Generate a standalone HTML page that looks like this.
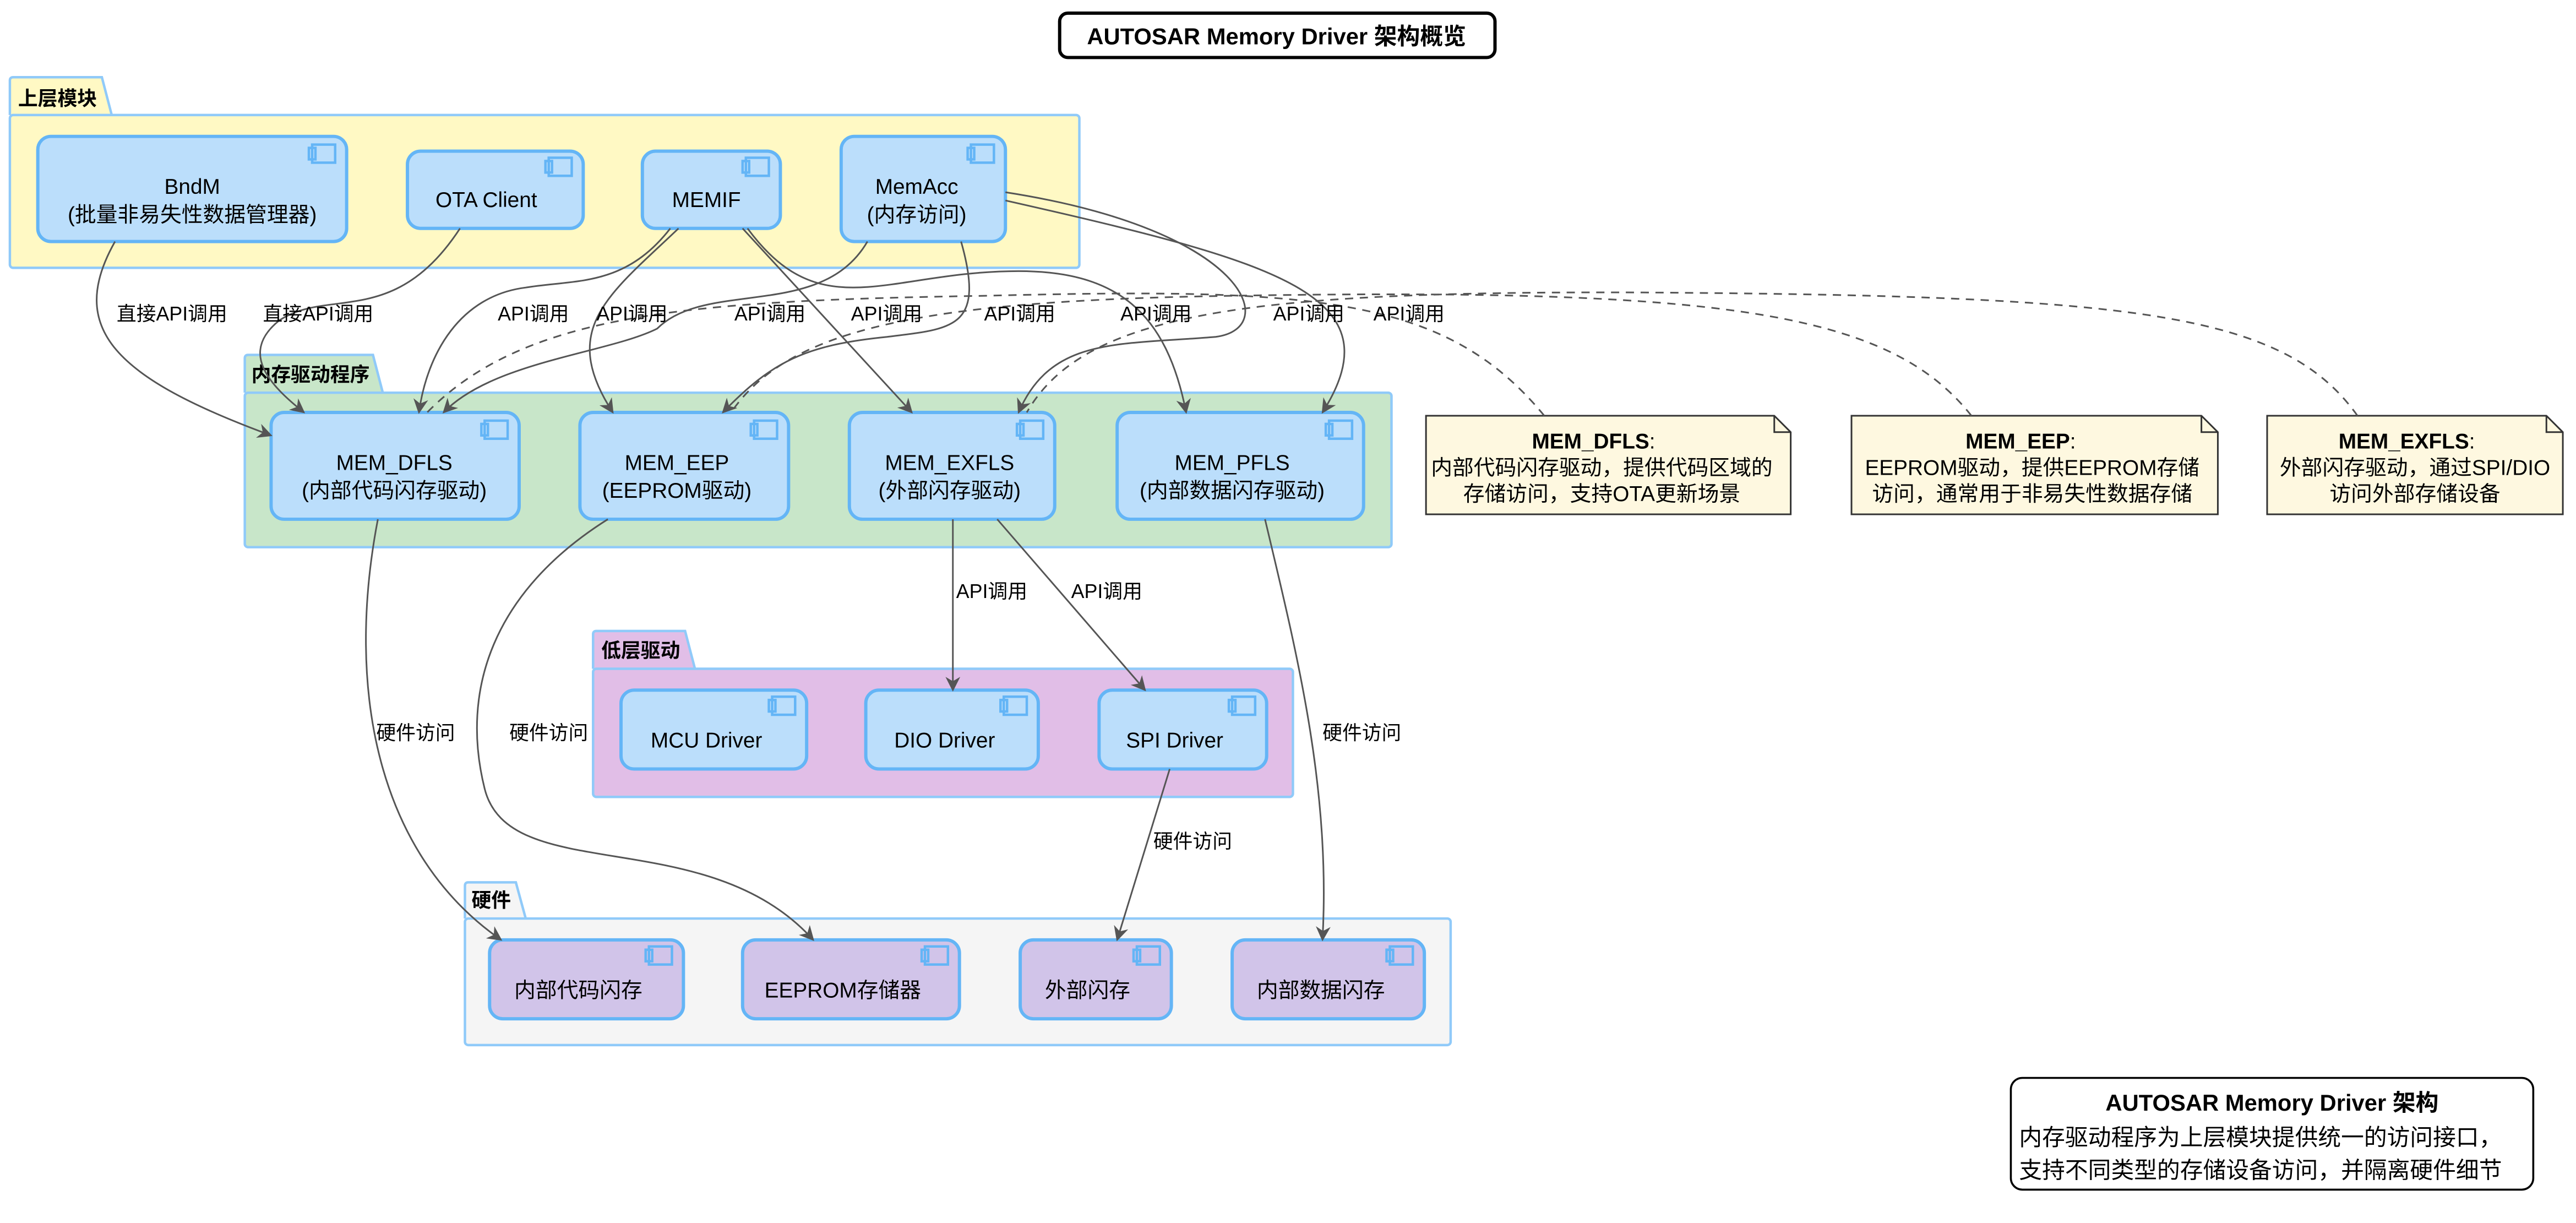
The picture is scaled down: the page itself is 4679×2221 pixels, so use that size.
<!DOCTYPE html>
<html><head><meta charset="utf-8"><style>
html,body{margin:0;padding:0;background:#fff;}
svg{display:block;}
text{font-family:"Liberation Sans","Noto Sans CJK SC",sans-serif;fill:#000;}
.c{fill:#bbdefb;stroke:#64b5f6;stroke-width:2;}
.h{fill:#d1c4e9;stroke:#64b5f6;stroke-width:2;}
.ic{fill:none;stroke:#64b5f6;stroke-width:1.5;}
.e{fill:none;stroke:#555;stroke-width:1;}
.d{fill:none;stroke:#555;stroke-width:1;stroke-dasharray:5,4;}
.l{font-size:12px;}
.t{font-size:13px;text-anchor:middle;}
.pk{font-size:12px;font-weight:bold;}
.n{fill:#fef8e0;stroke:#333;stroke-width:1;}
</style></head><body>
<svg width="4679" height="2221" viewBox="0 0 1568 744.3" xmlns="http://www.w3.org/2000/svg">
<defs><marker id="a" viewBox="0 0 10 10" refX="9" refY="5" markerWidth="9" markerHeight="9" orient="auto"><path d="M0,0 L10,5 L0,10 L3,5 z" fill="#555"/></marker></defs>
<rect width="1568" height="744.3" fill="#fff"/>
<!-- title -->
<rect x="645" y="8" width="265" height="27" rx="5" fill="#fff" stroke="#000" stroke-width="2"/>
<text x="777" y="27" font-size="14" font-weight="bold" text-anchor="middle">AUTOSAR Memory Driver 架构概览</text>

<!-- packages -->
<path d="M6,70 L6,49 Q6,47 8,47 L62,47 L68,70" fill="#fff9c4" stroke="#90caf9" stroke-width="1.5"/>
<rect x="6" y="70" width="651" height="93" rx="2" fill="#fff9c4" stroke="#90caf9" stroke-width="1.5"/>
<text x="11" y="64" class="pk">上层模块</text>

<path d="M149,239 L149,218 Q149,216 151,216 L227,216 L233,239" fill="#c8e6c9" stroke="#90caf9" stroke-width="1.5"/>
<rect x="149" y="239" width="698" height="94" rx="2" fill="#c8e6c9" stroke="#90caf9" stroke-width="1.5"/>
<text x="153" y="232" class="pk">内存驱动程序</text>

<path d="M361,407 L361,386 Q361,384 363,384 L417,384 L423,407" fill="#e1bee7" stroke="#90caf9" stroke-width="1.5"/>
<rect x="361" y="407" width="426" height="78" rx="2" fill="#e1bee7" stroke="#90caf9" stroke-width="1.5"/>
<text x="366" y="400" class="pk">低层驱动</text>

<path d="M283,559 L283,539 Q283,537 285,537 L314,537 L320,559" fill="#f5f5f5" stroke="#90caf9" stroke-width="1.5"/>
<rect x="283" y="559" width="600" height="77" rx="2" fill="#f5f5f5" stroke="#90caf9" stroke-width="1.5"/>
<text x="287" y="552" class="pk">硬件</text>

<!-- upper components -->
<rect class="c" x="23" y="83" width="188" height="64" rx="8"/><rect class="ic" x="190" y="88" width="14" height="11"/><rect class="ic" x="188" y="90" width="4" height="7"/>
<text class="t" x="117" y="118">BndM</text><text class="t" x="117" y="135">(批量非易失性数据管理器)</text>
<rect class="c" x="248" y="92" width="107" height="47" rx="8"/><rect class="ic" x="334" y="96" width="14" height="11"/><rect class="ic" x="332" y="98" width="4" height="7"/>
<text class="t" x="296" y="126">OTA Client</text>
<rect class="c" x="391" y="92" width="84" height="47" rx="8"/><rect class="ic" x="454" y="96" width="14" height="11"/><rect class="ic" x="452" y="98" width="4" height="7"/>
<text class="t" x="430" y="126">MEMIF</text>
<rect class="c" x="512" y="83" width="100" height="64" rx="8"/><rect class="ic" x="591" y="88" width="14" height="11"/><rect class="ic" x="589" y="90" width="4" height="7"/>
<text class="t" x="558" y="118">MemAcc</text><text class="t" x="558" y="135">(内存访问)</text>

<!-- mem components -->
<rect class="c" x="165" y="251" width="151" height="65" rx="8"/><rect class="ic" x="295" y="256" width="14" height="11"/><rect class="ic" x="293" y="258" width="4" height="7"/>
<text class="t" x="240" y="286">MEM_DFLS</text><text class="t" x="240" y="303">(内部代码闪存驱动)</text>
<rect class="c" x="353" y="251" width="127" height="65" rx="8"/><rect class="ic" x="459" y="256" width="14" height="11"/><rect class="ic" x="457" y="258" width="4" height="7"/>
<text class="t" x="412" y="286">MEM_EEP</text><text class="t" x="412" y="303">(EEPROM驱动)</text>
<rect class="c" x="517" y="251" width="125" height="65" rx="8"/><rect class="ic" x="621" y="256" width="14" height="11"/><rect class="ic" x="619" y="258" width="4" height="7"/>
<text class="t" x="578" y="286">MEM_EXFLS</text><text class="t" x="578" y="303">(外部闪存驱动)</text>
<rect class="c" x="680" y="251" width="150" height="65" rx="8"/><rect class="ic" x="809" y="256" width="14" height="11"/><rect class="ic" x="807" y="258" width="4" height="7"/>
<text class="t" x="750" y="286">MEM_PFLS</text><text class="t" x="750" y="303">(内部数据闪存驱动)</text>

<!-- low drivers -->
<rect class="c" x="378" y="420" width="113" height="48" rx="8"/><rect class="ic" x="470" y="424" width="14" height="11"/><rect class="ic" x="468" y="426" width="4" height="7"/>
<text class="t" x="430" y="455">MCU Driver</text>
<rect class="c" x="527" y="420" width="105" height="48" rx="8"/><rect class="ic" x="611" y="424" width="14" height="11"/><rect class="ic" x="609" y="426" width="4" height="7"/>
<text class="t" x="575" y="455">DIO Driver</text>
<rect class="c" x="669" y="420" width="102" height="48" rx="8"/><rect class="ic" x="750" y="424" width="14" height="11"/><rect class="ic" x="748" y="426" width="4" height="7"/>
<text class="t" x="715" y="455">SPI Driver</text>

<!-- hardware -->
<rect class="h" x="298" y="572" width="118" height="48" rx="8"/><rect class="ic" x="395" y="576" width="14" height="11"/><rect class="ic" x="393" y="578" width="4" height="7"/>
<text class="t" x="352" y="607">内部代码闪存</text>
<rect class="h" x="452" y="572" width="132" height="48" rx="8"/><rect class="ic" x="563" y="576" width="14" height="11"/><rect class="ic" x="561" y="578" width="4" height="7"/>
<text class="t" x="513" y="607">EEPROM存储器</text>
<rect class="h" x="621" y="572" width="92" height="48" rx="8"/><rect class="ic" x="692" y="576" width="14" height="11"/><rect class="ic" x="690" y="578" width="4" height="7"/>
<text class="t" x="662" y="607">外部闪存</text>
<rect class="h" x="750" y="572" width="117" height="48" rx="8"/><rect class="ic" x="846" y="576" width="14" height="11"/><rect class="ic" x="844" y="578" width="4" height="7"/>
<text class="t" x="804" y="607">内部数据闪存</text>

<!-- notes -->
<path class="n" d="M868,253 L1080,253 L1090,263 L1090,313 L868,313 Z"/><path d="M1080,253 L1080,263 L1090,263" fill="none" stroke="#333"/>
<text class="t" x="970" y="273" font-weight="bold">MEM_DFLS<tspan font-weight="normal">:</tspan></text>
<text class="t" x="975" y="289">内部代码闪存驱动，提供代码区域的</text><text class="t" x="975" y="305">存储访问，支持OTA更新场景</text>
<path class="n" d="M1127,253 L1340,253 L1350,263 L1350,313 L1127,313 Z"/><path d="M1340,253 L1340,263 L1350,263" fill="none" stroke="#333"/>
<text class="t" x="1230" y="273" font-weight="bold">MEM_EEP<tspan font-weight="normal">:</tspan></text>
<text class="t" x="1237" y="289">EEPROM驱动，提供EEPROM存储</text><text class="t" x="1237" y="305">访问，通常用于非易失性数据存储</text>
<path class="n" d="M1380,253 L1550,253 L1560,263 L1560,313 L1380,313 Z"/><path d="M1550,253 L1550,263 L1560,263" fill="none" stroke="#333"/>
<text class="t" x="1465" y="273" font-weight="bold">MEM_EXFLS<tspan font-weight="normal">:</tspan></text>
<text class="t" x="1470" y="289">外部闪存驱动，通过SPI/DIO</text><text class="t" x="1470" y="305">访问外部存储设备</text>

<!-- dashed note links -->
<path class="d" d="M940,253 C880,180 800,175 600,180 C420,183 320,190 260,251"/>
<path class="d" d="M1200,253 C1150,190 1050,175 750,180 C560,183 480,200 445,251"/>
<path class="d" d="M1435,253 C1390,190 1300,180 1000,178 C760,177 660,190 625,251"/>

<!-- edges upper->mem -->
<path class="e" marker-end="url(#a)" d="M70,147 C40,200 70,230 165,265"/>
<path class="e" marker-end="url(#a)" d="M280,139 C240,200 200,175 170,195 C145,215 165,235 185,251"/>
<path class="e" marker-end="url(#a)" d="M408,139 C380,175 350,170 320,175 C280,180 260,215 255,251"/>
<path class="e" marker-end="url(#a)" d="M413,139 C370,180 340,200 373,251"/>
<path class="e" marker-end="url(#a)" d="M452,139 L555,251"/>
<path class="e" marker-end="url(#a)" d="M455,139 C500,200 540,165 620,165 C680,165 710,190 722,251"/>
<path class="e" marker-end="url(#a)" d="M528,147 C500,195 430,170 400,200 C370,215 300,220 270,251"/>
<path class="e" marker-end="url(#a)" d="M585,147 C600,200 580,200 540,205 C490,210 470,220 440,251"/>
<path class="e" marker-end="url(#a)" d="M612,117 C760,140 780,200 740,205 C680,210 640,205 620,251"/>
<path class="e" marker-end="url(#a)" d="M612,122 C780,160 850,180 805,251"/>

<!-- mem->low -->
<path class="e" marker-end="url(#a)" d="M580,316 L580,420"/>
<path class="e" marker-end="url(#a)" d="M607,316 L697,420"/>

<!-- hardware access -->
<path class="e" marker-end="url(#a)" d="M230,316 C210,420 230,520 305,572"/>
<path class="e" marker-end="url(#a)" d="M370,316 C300,360 280,420 295,480 C310,540 430,500 495,572"/>
<path class="e" marker-end="url(#a)" d="M770,316 C790,400 810,480 805,572"/>
<path class="e" marker-end="url(#a)" d="M712,468 L680,572"/>

<!-- labels -->
<g class="l">
<text x="71" y="195">直接API调用</text><text x="160" y="195">直接API调用</text>
<text x="303" y="195">API调用</text><text x="363" y="195">API调用</text><text x="447" y="195">API调用</text>
<text x="518" y="195">API调用</text><text x="599" y="195">API调用</text><text x="682" y="195">API调用</text>
<text x="775" y="195">API调用</text><text x="836" y="195">API调用</text>
<text x="582" y="364">API调用</text><text x="652" y="364">API调用</text>
<text x="229" y="450">硬件访问</text><text x="310" y="450">硬件访问</text><text x="805" y="450">硬件访问</text>
<text x="702" y="516">硬件访问</text>
</g>

<!-- legend -->
<rect x="1224" y="656" width="318" height="68" rx="7" fill="#fff" stroke="#000" stroke-width="1.2"/>
<text x="1383" y="676" font-size="14" font-weight="bold" text-anchor="middle">AUTOSAR Memory Driver 架构</text>
<text x="1229" y="697" font-size="14">内存驱动程序为上层模块提供统一的访问接口，</text>
<text x="1229" y="717" font-size="14">支持不同类型的存储设备访问，并隔离硬件细节</text>
</svg>
</body></html>
